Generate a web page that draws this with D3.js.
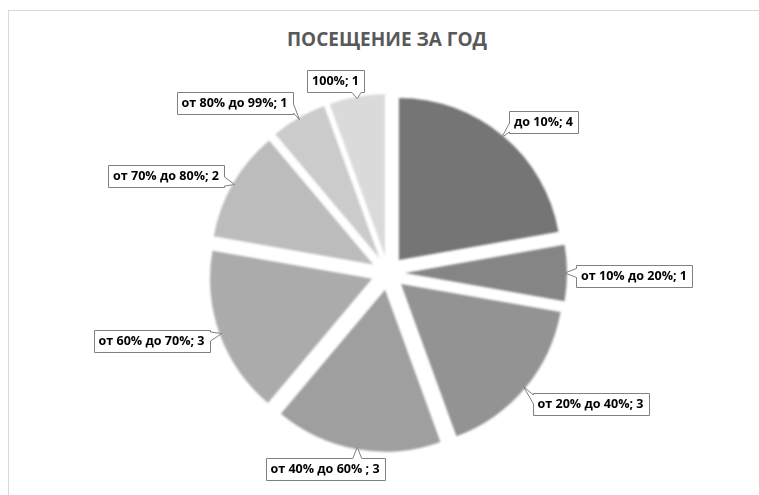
<!DOCTYPE html>
<html><head><meta charset="utf-8">
<script src="https://cdn.jsdelivr.net/npm/d3@7"></script>
<style>html,body{margin:0;padding:0;background:#fff;}svg{display:block;}</style>
</head><body>
<svg id="chart" width="759" height="495"></svg>
<script>
// ---- data ----
const title = "ПОСЕЩЕНИЕ ЗА ГОД";
const categories = ["до 10%", "от 10% до 20%", "от 20% до 40%", "от 40% до 60% ", "от 60% до 70%", "от 70% до 80%", "от 80% до 99%", "100%"];
const values = [4, 1, 3, 3, 3, 2, 1, 1];
const colors = ["#747474", "#858585", "#939393", "#9f9f9f", "#ababab", "#bcbcbc", "#cbcbcb", "#dadada"];
// label box centres (layout)
const labelCenters = [[543.5,121.5],[634,275.5],[590.5,403.5],[325,468.5],[151.5,341],[166,176],[234.5,103],[335.5,81]];

const svg = d3.select("#chart");
const W = 759, H = 495;
svg.append("rect").attr("x",8.5).attr("y",10.5).attr("width",W).attr("height",H)
  .attr("fill","#fff").attr("stroke","#d9d9d9").attr("stroke-width",1);

svg.append("text").attr("x",387).attr("y",46).attr("text-anchor","middle")
  .attr("font-family","Open Sans, sans-serif").attr("font-weight","bold")
  .attr("font-size",19).attr("fill","#595959").text(title);

const defs = svg.append("defs");
defs.append("filter").attr("id","soft").attr("x","-10%").attr("y","-10%").attr("width","120%").attr("height","120%")
  .append("feGaussianBlur").attr("stdDeviation",1.1);

const cx = 388, cy = 273, r = 162, explode = 17;
const pie = d3.pie().sort(null).value(d => d)(values);
const arc = d3.arc().innerRadius(0).outerRadius(r);

const g = svg.append("g").attr("filter","url(#soft)");
pie.forEach((p,i) => {
  const mid = (p.startAngle + p.endAngle)/2;
  const ox = cx + explode*Math.sin(mid), oy = cy - explode*Math.cos(mid);
  g.append("path").attr("d", arc(p)).attr("transform",`translate(${ox},${oy})`).attr("fill", colors[i]);
});

// labels
const lg = svg.append("g");
const fontFamily = "Open Sans, sans-serif";
// fit font size
const probe = lg.append("text").attr("font-family",fontFamily).attr("font-weight","bold").attr("font-size",13).text("от 10% до 20%; 1");
const fs = 13 * 106 / probe.node().getComputedTextLength();
probe.remove();

function calloutPath(x,y,w,h,tx,ty){
  const hw = 4.5;
  let side;
  const dl = x - tx, dr = tx - (x+w), dt = y - ty, db = ty - (y+h);
  const m = Math.max(dl,dr,dt,db);
  side = m===dl?"l":m===dr?"r":m===dt?"t":"b";
  const cl = (v,a,b)=>Math.max(a,Math.min(b,v));
  let p = `M${x},${y}`;
  if(side==="t"){ const c=cl(tx,x+8,x+w-8); p+=`L${c-hw},${y}L${tx},${ty}L${c+hw},${y}`; }
  p+=`L${x+w},${y}`;
  if(side==="r"){ const c=cl(ty,y+6,y+h-6); p+=`L${x+w},${c-hw}L${tx},${ty}L${x+w},${c+hw}`; }
  p+=`L${x+w},${y+h}`;
  if(side==="b"){ const c=cl(tx,x+8,x+w-8); p+=`L${c+hw},${y+h}L${tx},${ty}L${c-hw},${y+h}`; }
  p+=`L${x},${y+h}`;
  if(side==="l"){ const c=cl(ty,y+6,y+h-6); p+=`L${x},${c+hw}L${tx},${ty}L${x},${c-hw}`; }
  p+="Z";
  return p;
}

pie.forEach((p,i) => {
  const mid = (p.startAngle + p.endAngle)/2;
  const ox = cx + explode*Math.sin(mid), oy = cy - explode*Math.cos(mid);
  const tx = ox + (r-2)*Math.sin(mid), ty = oy - (r-2)*Math.cos(mid);
  const label = categories[i] + "; " + values[i];
  const t = lg.append("text").attr("font-family",fontFamily).attr("font-weight","bold")
    .attr("font-size",fs).attr("fill","#000").attr("text-anchor","middle")
    .attr("x",labelCenters[i][0]).attr("y",labelCenters[i][1]).attr("dy","0.35em").text(label);
  const tw = t.node().getComputedTextLength();
  const w = Math.round(tw + 10), h = 22;
  const x = Math.round(labelCenters[i][0] - w/2) + 0.5, y = Math.round(labelCenters[i][1] - h/2) + 0.5;
  lg.insert("path", () => t.node()).attr("d", calloutPath(x,y,w,h,tx,ty))
    .attr("fill","#fff").attr("stroke","#808080").attr("stroke-width",1);
});
</script>
</body></html>
